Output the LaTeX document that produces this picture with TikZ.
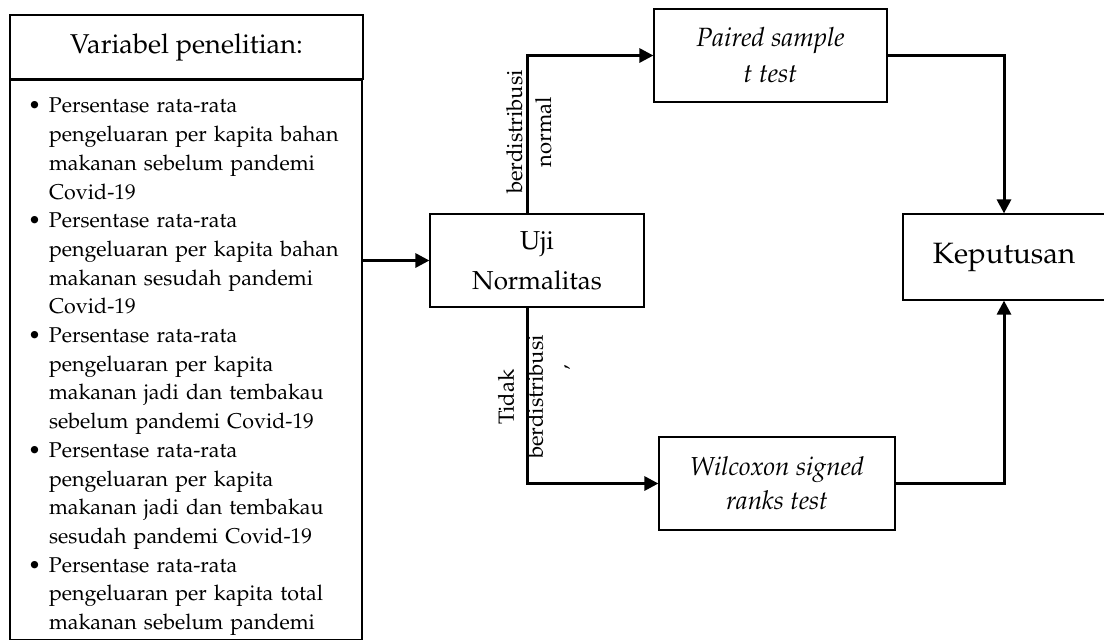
\documentclass[tikz,border=0pt]{standalone}
\usepackage[T1]{fontenc}
\usepackage{mathpazo}
\usepackage{tikz}
\usetikzlibrary{arrows.meta,positioning}

\newcommand{\butir}[1]{\par\noindent\hangindent=10.5pt\hangafter=1\makebox[10.5pt][l]{\textbullet}#1}

\begin{document}
\begin{tikzpicture}[x=0.5pt,y=-0.5pt,
	box/.style={draw,line width=0.6pt,inner sep=0pt,align=center},
	link/.style={line width=1.5pt},
	arr/.style={link,-{Triangle[length=7pt,width=7pt]}},
	lbl/.style={font=\fontsize{11}{14.5}\selectfont,align=center,inner sep=0pt}]

\useasboundingbox (0,0) rectangle (1104,639);

% kolom variabel
\node [box,minimum width=176.5pt,minimum height=32pt,font=\fontsize{13.6}{17}\selectfont] (judul) at (186.5,47) {Variabel penelitian:};
\node [draw,line width=0.6pt,anchor=north west,text width=158pt,inner xsep=9pt,inner ysep=2pt,align=left,font=\fontsize{10.7}{14.35}\selectfont] (isi) at (judul.south west) {%
	\butir{Persentase rata-rata\newline pengeluaran per kapita bahan\newline makanan sebelum pandemi\newline Covid-19}
	\butir{Persentase rata-rata\newline pengeluaran per kapita bahan\newline makanan sesudah pandemi\newline Covid-19}
	\butir{Persentase rata-rata\newline pengeluaran per kapita\newline makanan jadi dan tembakau\newline sebelum pandemi Covid-19}
	\butir{Persentase rata-rata\newline pengeluaran per kapita\newline makanan jadi dan tembakau\newline sesudah pandemi Covid-19}
	\butir{Persentase rata-rata\newline pengeluaran per kapita total\newline makanan sebelum pandemi}
	\par\vspace*{40pt}};

% uji
\node [box,minimum width=107pt,minimum height=46.5pt,font=\fontsize{13}{20}\selectfont] (uji) at (537,260.5) {Uji\\Normalitas};
\node [box,minimum width=116.5pt,minimum height=46.5pt,font=\fontsize{13.2}{18}\selectfont\itshape] (paired) at (770.5,55.5) {Paired sample\\t test};
\node [box,minimum width=118pt,minimum height=46.5pt,font=\fontsize{13}{17}\selectfont\itshape] (wilcoxon) at (777,483.5) {Wilcoxon signed\\ranks test};
\node [box,minimum width=101pt,minimum height=43pt,font=\fontsize{14.7}{18}\selectfont] (keputusan) at (1004,257) {Keputusan};

\coordinate (cabang) at (527,57);

\draw [arr] (isi.east |- uji) -- (uji);
\draw [arr] (uji.north -| cabang) |- (paired);
\draw [arr] (uji.south -| cabang) |- (wilcoxon);
\draw [arr] (paired) -| (keputusan);
\draw [arr] (wilcoxon) -| (keputusan);

\node [lbl,rotate=90] (normal) at (529,132) {berdistribusi\\normal};
\node [lbl,rotate=90] (tidak) at (539,397) {Tidak\\berdistribusi\\[4pt]\hspace*{30pt}'};
\end{tikzpicture}
\end{document}
